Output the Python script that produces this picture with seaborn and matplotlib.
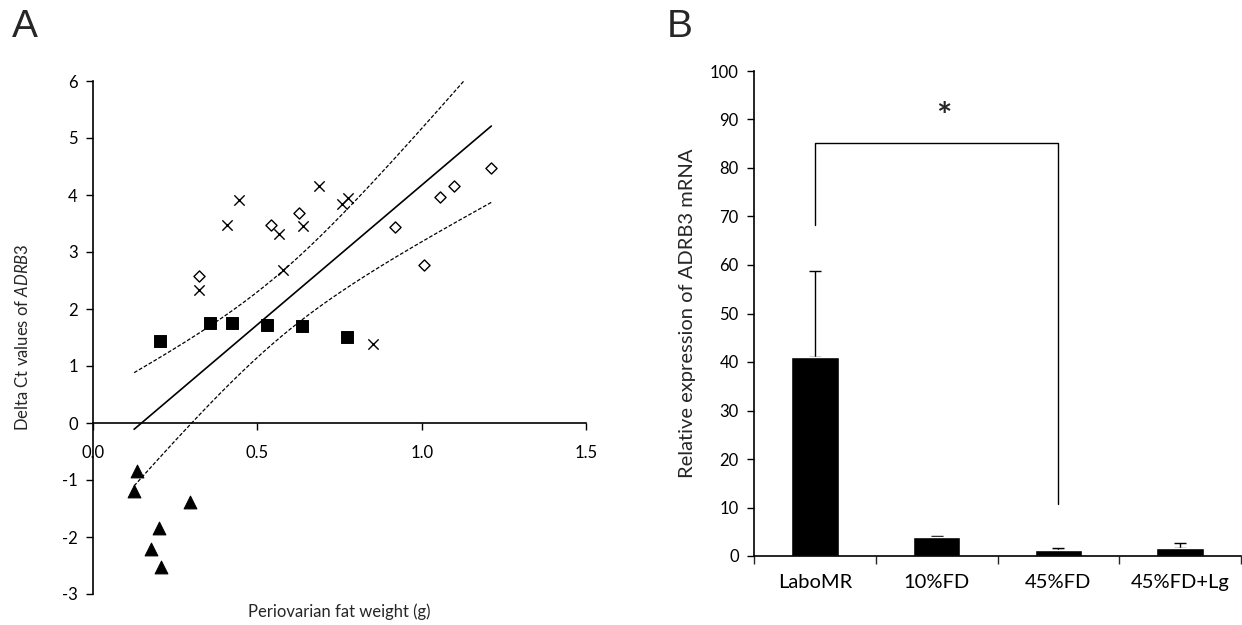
import numpy as np
import pandas as pd
import matplotlib
matplotlib.use('Agg')
import matplotlib.pyplot as plt
import seaborn as sns

# Panel A: fat weight (g) vs delta Ct of ADRB3, four diet groups
sq_x = [0.203, 0.355, 0.424, 0.529, 0.637, 0.774]
sq_y = [1.43, 1.754, 1.748, 1.717, 1.698, 1.517]
tri_x = [0.134, 0.125, 0.200, 0.175, 0.208, 0.294]
tri_y = [-0.843, -1.199, -1.842, -2.21, -2.52, -1.39]
cross_x = [0.322, 0.408, 0.443, 0.565, 0.640, 0.578, 0.689, 0.759, 0.776, 0.853]
cross_y = [2.33, 3.48, 3.91, 3.32, 3.45, 2.68, 4.16, 3.84, 3.95, 1.38]
dia_x = [0.322, 0.541, 0.627, 0.918, 1.006, 1.056, 1.097, 1.212]
dia_y = [2.58, 3.47, 3.69, 3.43, 2.78, 3.96, 4.16, 4.48]

# Panel B: relative expression
groups = ['LaboMR', '10%FD', '45%FD', '45%FD+Lg']
expr = [41.0, 3.95, 1.15, 1.7]
expr_err = [17.8, 0.25, 0.45, 1.0]

sns.set_style('ticks')
plt.rcParams['font.family'] = ['Lato', 'DejaVu Sans']
plt.rcParams['mathtext.fontset'] = 'custom'
plt.rcParams['mathtext.rm'] = 'Lato'
plt.rcParams['mathtext.it'] = 'Lato:italic'
plt.rcParams['axes.unicode_minus'] = False

fig = plt.figure(figsize=(12.42, 6.25), dpi=100)
axA = fig.add_axes([0.0749, 0.0496, 0.3969, 0.8208])
axB = fig.add_axes([0.6071, 0.1104, 0.3921, 0.7760])

# ---- panel A ----
sns.scatterplot(x=sq_x, y=sq_y, marker='s', s=72, color='black', edgecolor='black', ax=axA)
sns.scatterplot(x=tri_x, y=tri_y, marker='^', s=85, color='black', edgecolor='black', ax=axA)
sns.scatterplot(x=cross_x, y=cross_y, marker='x', s=55, color='black', linewidth=1.0, ax=axA)
sns.scatterplot(x=dia_x, y=dia_y, marker='D', s=32, facecolor='white', edgecolor='black',
                linewidth=1.0, ax=axA)

# least squares line with 95% confidence band of the mean
all_x = np.array(sq_x + tri_x + cross_x + dia_x)
all_y = np.array(sq_y + tri_y + cross_y + dia_y)
n = len(all_x)
slope, intercept = np.polyfit(all_x, all_y, 1)
resid = all_y - (slope * all_x + intercept)
s_err = np.sqrt(np.sum(resid ** 2) / (n - 2))
sxx = np.sum((all_x - all_x.mean()) ** 2)
xs = np.linspace(all_x.min(), all_x.max(), 200)
fit = slope * xs + intercept
half = 2.048 * s_err * np.sqrt(1.0 / n + (xs - all_x.mean()) ** 2 / sxx)
axA.plot(xs, fit, color='black', lw=1.2)
axA.plot(xs, fit + half, color='black', lw=0.9, ls=(0, (3, 1.5)))
axA.plot(xs, fit - half, color='black', lw=0.9, ls=(0, (3, 1.5)))

axA.set_xlim(0, 1.5)
axA.set_ylim(-3, 6)
axA.set_xticks([0, 0.5, 1.0, 1.5])
axA.set_xticklabels(['0.0', '0.5', '1.0', '1.5'])
axA.set_yticks(range(-3, 7))
axA.spines['top'].set_visible(False)
axA.spines['right'].set_visible(False)
axA.spines['bottom'].set_position(('data', 0))
for sp in ['left', 'bottom']:
    axA.spines[sp].set_linewidth(1.2)
    axA.spines[sp].set_color('black')
axA.tick_params(axis='x', direction='out', length=5, width=1, pad=11, labelsize=12, colors='black')
axA.tick_params(axis='y', direction='out', length=5, width=1, pad=6, labelsize=12, colors='black')
axA.set_xlabel('Periovarian fat weight (g)', fontsize=12)
axA.xaxis.set_label_coords(0.5, -0.018)
axA.set_ylabel(r'Delta Ct values of $\mathit{ADRB3}$', fontsize=12, labelpad=22)

# ---- panel B ----
sns.barplot(x=groups, y=expr, color='black', width=0.39, saturation=1, ax=axB, errorbar=None)
axB.errorbar(x=np.arange(len(groups)), y=expr, yerr=[np.zeros(len(expr)), expr_err],
             fmt='none', ecolor='black', elinewidth=1, capsize=4, capthick=1, zorder=0.5)
axB.plot([0, 0, 2, 2], [68.2, 85.2, 85.2, 10.7], color='black', lw=1)
axB.text(1.06, 90.5, '*', ha='center', va='center', fontsize=26, fontweight='bold')

axB.set_xlim(-0.5, 3.5)
axB.set_ylim(0, 100)
axB.set_yticks(range(0, 101, 10))
axB.set_xticks([-0.5, 0.5, 1.5, 2.5, 3.5])
axB.set_xticklabels([])
axB.set_xticks(range(len(groups)), minor=True)
axB.set_xticklabels(groups, minor=True)
axB.tick_params(axis='x', which='major', direction='out', length=6, width=1)
axB.tick_params(axis='x', which='minor', length=0, pad=13, labelsize=14.5, colors='black')
axB.tick_params(axis='y', direction='out', length=5, width=1, pad=6, labelsize=12, colors='black')
axB.spines['top'].set_visible(False)
axB.spines['right'].set_visible(False)
for sp in ['left', 'bottom']:
    axB.spines[sp].set_linewidth(1.2)
    axB.spines[sp].set_color('black')
axB.set_xlabel('')
axB.set_ylabel('Relative expression of ADRB3 mRNA', fontsize=14.5, labelpad=10)

fig.text(0.010, 0.985, 'A', fontsize=28, family='Liberation Sans', va='top', ha='left')
fig.text(0.537, 0.985, 'B', fontsize=28, family='Liberation Sans', va='top', ha='left')

fig.savefig('out.png', dpi=100)
